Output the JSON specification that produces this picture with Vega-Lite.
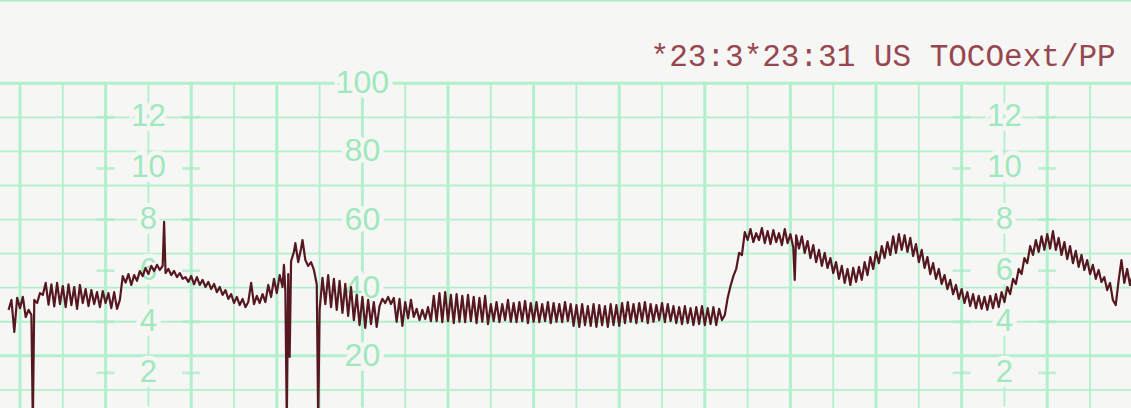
{
  "$schema": "https://vega.github.io/schema/vega-lite/v6.json",
  "autosize": {"type": "fit", "contains": "padding"},
  "width": 1131,
  "height": 408,
  "padding": 0,
  "background": "#f6f6f4",
  "config": {"view": {"stroke": null}},
  "datasets": {
    "one": [{"k": 1}],
    "vminor": [{"t":90},{"t":150},{"t":210},{"t":270},{"t":330},{"t":390},{"t":450},{"t":510},{"t":570},{"t":630},{"t":690},{"t":750},{"t":810}],
    "vmajor": [{"t":60},{"t":120},{"t":180},{"t":240},{"t":300},{"t":360},{"t":420},{"t":480},{"t":540},{"t":600},{"t":660},{"t":720},{"t":780}],
    "hminor": [{"mmHg":0},{"mmHg":10},{"mmHg":30},{"mmHg":40},{"mmHg":50},{"mmHg":60},{"mmHg":70},{"mmHg":80},{"mmHg":90}],
    "hmajor": [{"mmHg":20},{"mmHg":100}],
    "kpa": [
      {"kpa": "0", "mmHg": 0}, {"kpa": "2", "mmHg": 15}, {"kpa": "4", "mmHg": 30}, {"kpa": "6", "mmHg": 45},
      {"kpa": "8", "mmHg": 60}, {"kpa": "10", "mmHg": 75}, {"kpa": "12", "mmHg": 90}
    ],
    "mm": [
      {"mmHg": 0}, {"mmHg": 20}, {"mmHg": 40}, {"mmHg": 60}, {"mmHg": 80}, {"mmHg": 100}
    ],
    "header": [{"text": "*23:3*23:31 US TOCOext/PP"}],
    "trace": [
      {"t":52,"p":33.5},{"t":54,"p":36.4},{"t":56,"p":27},{"t":58,"p":37.0},{"t":60,"p":34.0},{"t":62,"p":37.3},{"t":64,"p":31.4},{"t":66,"p":33.5},{"t":68,"p":32.0},{"t":69,"p":0},
      {"t":70,"p":36.4},{"t":72,"p":35.5},{"t":74,"p":38.4},{"t":76,"p":37.9},{"t":78,"p":41.4},{"t":80,"p":35.0},{"t":82,"p":41.0},{"t":84,"p":34.5},{"t":86,"p":41.4},{"t":88,"p":35.2},
      {"t":90,"p":40.5},{"t":92,"p":34.3},{"t":94,"p":41.0},{"t":96,"p":34.9},{"t":98,"p":40.2},{"t":100,"p":33.8},{"t":102,"p":40.8},{"t":104,"p":35.5},{"t":106,"p":39.6},{"t":108,"p":34.6},
      {"t":110,"p":39.3},{"t":112,"p":35.2},{"t":114,"p":38.7},{"t":116,"p":34.3},{"t":118,"p":39.0},{"t":120,"p":35.5},{"t":122,"p":38.4},{"t":124,"p":34.0},{"t":126,"p":38.7},{"t":128,"p":33.8},
      {"t":130,"p":36.4},{"t":132,"p":43.4},{"t":134,"p":41.5},{"t":136,"p":44.0},{"t":138,"p":40.8},{"t":140,"p":43.7},{"t":142,"p":42.0},{"t":144,"p":44.9},{"t":146,"p":43.4},{"t":148,"p":45.8},
      {"t":150,"p":44.0},{"t":152,"p":46.4},{"t":154,"p":44.9},{"t":156,"p":46.7},{"t":158,"p":45.2},{"t":160,"p":46.4},{"t":161,"p":59.3},{"t":162,"p":44.3},{"t":164,"p":45.5},{"t":166,"p":43.7},
      {"t":168,"p":44.9},{"t":170,"p":43.1},{"t":172,"p":44.3},{"t":174,"p":42.6},{"t":176,"p":43.1},{"t":178,"p":41.7},{"t":180,"p":43.4},{"t":182,"p":41.0},{"t":184,"p":43.1},{"t":186,"p":40.8},
      {"t":188,"p":42.3},{"t":190,"p":40.2},{"t":192,"p":41.7},{"t":194,"p":39.6},{"t":196,"p":41.1},{"t":198,"p":38.7},{"t":200,"p":40.2},{"t":202,"p":37.9},{"t":204,"p":39.3},{"t":206,"p":36.7},
      {"t":208,"p":38.1},{"t":210,"p":35.5},{"t":212,"p":37.3},{"t":214,"p":34.9},{"t":216,"p":36.7},{"t":218,"p":34.3},{"t":220,"p":35.8},{"t":222,"p":41.4},{"t":224,"p":35.2},{"t":226,"p":37.6},
      {"t":228,"p":35.5},{"t":230,"p":38.1},{"t":232,"p":35.8},{"t":234,"p":40.8},{"t":236,"p":37.3},{"t":238,"p":42.6},{"t":240,"p":38.4},{"t":242,"p":43.7},{"t":244,"p":40.2},{"t":245,"p":46.7},
      {"t":246,"p":39.0},{"t":247,"p":0},{"t":248,"p":44},{"t":249,"p":19.7},{"t":250,"p":47.8},{"t":252,"p":50.5},{"t":253,"p":53.1},{"t":255,"p":47.5},{"t":257,"p":51.5},{"t":258,"p":54.0},
      {"t":260,"p":48.1},{"t":262,"p":46.4},{"t":264,"p":47.5},{"t":266,"p":45.2},{"t":268,"p":41.0},{"t":269,"p":0},{"t":270,"p":33.5},{"t":272,"p":42.9},{"t":274,"p":35.2},{"t":276,"p":43.7},
      {"t":278,"p":34.3},{"t":280,"p":42.6},{"t":282,"p":33.5},{"t":284,"p":42.0},{"t":286,"p":32.6},{"t":288,"p":41.1},{"t":290,"p":31.7},{"t":292,"p":40.2},{"t":294,"p":30.5},{"t":296,"p":37.9},
      {"t":298,"p":29.0},{"t":300,"p":37.3},{"t":302,"p":28.2},{"t":304,"p":36.4},{"t":306,"p":29.3},{"t":308,"p":35.8},{"t":310,"p":28.5},{"t":312,"p":34.6},{"t":314,"p":36.7},{"t":316,"p":35.5},
      {"t":318,"p":37.3},{"t":320,"p":35.2},{"t":322,"p":37.0},{"t":324,"p":30.0},{"t":326,"p":36.7},{"t":328,"p":28.8},{"t":330,"p":35.8},{"t":332,"p":31.0},{"t":334,"p":36.4},{"t":336,"p":31.4},
      {"t":338,"p":33.8},{"t":340,"p":30.5},{"t":342,"p":33.5},{"t":344,"p":30.8},{"t":346,"p":34.3},{"t":348,"p":30.2},{"t":350,"p":37.6},{"t":352,"p":30.2},{"t":354,"p":38.4},{"t":356,"p":29.9},
      {"t":358,"p":38.7},{"t":360,"p":30.2},{"t":362,"p":37.9},{"t":364,"p":29.6},{"t":366,"p":38.1},{"t":368,"p":30.0},{"t":370,"p":37.6},{"t":372,"p":29.9},{"t":374,"p":37.9},{"t":376,"p":30.2},
      {"t":378,"p":37.3},{"t":380,"p":29.6},{"t":382,"p":37.0},{"t":384,"p":30.0},{"t":386,"p":37.6},{"t":388,"p":29.3},{"t":390,"p":35.2},{"t":392,"p":30.2},{"t":394,"p":35.8},{"t":396,"p":29.9},
      {"t":398,"p":35.2},{"t":400,"p":30.5},{"t":402,"p":36.4},{"t":404,"p":30.0},{"t":406,"p":35.5},{"t":408,"p":29.9},{"t":410,"p":35.8},{"t":412,"p":30.2},{"t":414,"p":36.1},{"t":416,"p":29.6},
      {"t":418,"p":35.5},{"t":420,"p":30.0},{"t":422,"p":35.8},{"t":424,"p":29.9},{"t":426,"p":35.2},{"t":428,"p":30.2},{"t":430,"p":35.8},{"t":432,"p":29.6},{"t":434,"p":35.5},{"t":436,"p":30.0},
      {"t":438,"p":35.2},{"t":440,"p":29.9},{"t":442,"p":35.8},{"t":444,"p":30.2},{"t":446,"p":35.2},{"t":448,"p":28.8},{"t":450,"p":34.9},{"t":452,"p":28.5},{"t":454,"p":35.2},{"t":456,"p":29.0},
      {"t":458,"p":34.6},{"t":460,"p":28.8},{"t":462,"p":35.2},{"t":464,"p":28.5},{"t":466,"p":34.9},{"t":468,"p":29.0},{"t":470,"p":34.6},{"t":472,"p":28.5},{"t":474,"p":35.2},{"t":476,"p":29.0},
      {"t":478,"p":34.9},{"t":480,"p":28.8},{"t":482,"p":35.5},{"t":484,"p":29.6},{"t":486,"p":35.8},{"t":488,"p":30.0},{"t":490,"p":35.2},{"t":492,"p":29.6},{"t":494,"p":35.5},{"t":496,"p":30.2},
      {"t":498,"p":35.8},{"t":500,"p":29.6},{"t":502,"p":35.2},{"t":504,"p":30.0},{"t":506,"p":34.9},{"t":508,"p":30.5},{"t":510,"p":35.5},{"t":512,"p":29.9},{"t":514,"p":35.2},{"t":516,"p":30.2},
      {"t":518,"p":34.6},{"t":520,"p":29.6},{"t":522,"p":34.3},{"t":524,"p":29.3},{"t":526,"p":34.6},{"t":528,"p":29.6},{"t":530,"p":34.0},{"t":532,"p":29.0},{"t":534,"p":34.3},{"t":536,"p":29.3},
      {"t":538,"p":34.6},{"t":540,"p":29.0},{"t":542,"p":34.0},{"t":544,"p":29.3},{"t":546,"p":34.3},{"t":548,"p":29.0},{"t":550,"p":33.8},{"t":552,"p":30.5},{"t":554,"p":32.0},{"t":556,"p":37.0},
      {"t":558,"p":40.5},{"t":560,"p":43.4},{"t":562,"p":45.5},{"t":564,"p":50.2},{"t":566,"p":49.6},{"t":568,"p":56.3},{"t":570,"p":54.0},{"t":572,"p":57.2},{"t":574,"p":53.4},{"t":576,"p":56.0},
      {"t":578,"p":54.0},{"t":580,"p":57.5},{"t":582,"p":53.1},{"t":584,"p":56.6},{"t":586,"p":52.8},{"t":588,"p":56.9},{"t":590,"p":53.4},{"t":592,"p":56.0},{"t":594,"p":52.5},{"t":596,"p":57.2},
      {"t":598,"p":53.1},{"t":600,"p":55.7},{"t":602,"p":51.8},{"t":603,"p":42.3},{"t":604,"p":55.4},{"t":606,"p":51.5},{"t":608,"p":55.1},{"t":610,"p":50.2},{"t":612,"p":53.7},{"t":614,"p":48.7},
      {"t":616,"p":52.5},{"t":618,"p":47.5},{"t":620,"p":51.1},{"t":622,"p":46.4},{"t":624,"p":50.2},{"t":626,"p":45.8},{"t":628,"p":48.7},{"t":630,"p":44.3},{"t":632,"p":47.5},{"t":634,"p":42.6},
      {"t":636,"p":46.4},{"t":638,"p":41.4},{"t":640,"p":45.5},{"t":642,"p":40.8},{"t":644,"p":45.8},{"t":646,"p":41.7},{"t":648,"p":46.1},{"t":650,"p":42.3},{"t":652,"p":47.5},{"t":654,"p":43.7},
      {"t":656,"p":49.0},{"t":658,"p":45.5},{"t":660,"p":50.5},{"t":662,"p":47.2},{"t":664,"p":52.2},{"t":666,"p":48.7},{"t":668,"p":53.4},{"t":670,"p":49.6},{"t":672,"p":55.1},{"t":674,"p":50.2},
      {"t":676,"p":55.7},{"t":678,"p":51.1},{"t":680,"p":55.4},{"t":682,"p":50.5},{"t":684,"p":54.6},{"t":686,"p":49.3},{"t":688,"p":52.8},{"t":690,"p":47.5},{"t":692,"p":51.1},{"t":694,"p":45.8},
      {"t":696,"p":49.0},{"t":698,"p":44.0},{"t":700,"p":47.2},{"t":702,"p":42.6},{"t":704,"p":45.5},{"t":706,"p":41.1},{"t":708,"p":43.7},{"t":710,"p":39.6},{"t":712,"p":42.3},{"t":714,"p":38.1},
      {"t":716,"p":40.8},{"t":718,"p":36.7},{"t":720,"p":39.6},{"t":722,"p":35.5},{"t":724,"p":38.7},{"t":726,"p":34.6},{"t":728,"p":38.1},{"t":730,"p":34.0},{"t":732,"p":37.6},{"t":734,"p":33.8},
      {"t":736,"p":37.3},{"t":738,"p":33.5},{"t":740,"p":37.6},{"t":742,"p":34.0},{"t":744,"p":38.1},{"t":746,"p":34.3},{"t":748,"p":38.7},{"t":750,"p":35.8},{"t":752,"p":40.2},{"t":754,"p":38.1},
      {"t":756,"p":42.6},{"t":758,"p":41.1},{"t":760,"p":45.5},{"t":762,"p":44.0},{"t":764,"p":48.7},{"t":766,"p":47.2},{"t":768,"p":52.2},{"t":770,"p":49.6},{"t":772,"p":54.0},{"t":774,"p":50.5},
      {"t":776,"p":55.1},{"t":778,"p":51.1},{"t":780,"p":55.7},{"t":782,"p":51.5},{"t":784,"p":56.6},{"t":786,"p":51.1},{"t":788,"p":54.6},{"t":790,"p":49.6},{"t":792,"p":53.4},{"t":794,"p":48.4},
      {"t":796,"p":52.2},{"t":798,"p":47.2},{"t":800,"p":50.8},{"t":802,"p":46.1},{"t":804,"p":49.6},{"t":806,"p":45.2},{"t":808,"p":48.1},{"t":810,"p":44.0},{"t":812,"p":46.7},{"t":814,"p":42.6},
      {"t":816,"p":45.2},{"t":818,"p":41.7},{"t":820,"p":43.1},{"t":822,"p":39.3},{"t":824,"p":41.4},{"t":826,"p":36.4},{"t":828,"p":34.9},{"t":830,"p":42.0},{"t":832,"p":48.1},{"t":834,"p":41.4},
      {"t":836,"p":45.5},{"t":838,"p":40.8},{"t":840,"p":44.0}
    ]
  },
  "encoding": {
    "x": {"type": "quantitative", "scale": {"domain": [45.98, 838.7], "nice": false, "zero": false}, "axis": null},
    "y": {"type": "quantitative", "scale": {"domain": [4.69, 124.44], "nice": false, "zero": false}, "axis": null}
  },
  "layer": [
    {
      "data": {"name": "hminor"},
      "mark": {"type": "rule", "color": "#b2efcd", "strokeWidth": 1.8, "clip": true},
      "encoding": {"y": {"field": "mmHg", "type": "quantitative"}}
    },
    {
      "data": {"name": "hmajor"},
      "mark": {"type": "rule", "color": "#b2efcd", "strokeWidth": 3, "clip": true},
      "encoding": {"y": {"field": "mmHg", "type": "quantitative"}}
    },
    {
      "data": {"name": "vminor"},
      "mark": {"type": "rule", "color": "#b2efcd", "strokeWidth": 1.8, "clip": true},
      "encoding": {"x": {"field": "t", "type": "quantitative"}, "y": {"datum": 100.3, "type": "quantitative"}, "y2": {"datum": 0}}
    },
    {
      "data": {"name": "vmajor"},
      "mark": {"type": "rule", "color": "#b2efcd", "strokeWidth": 3, "clip": true},
      "encoding": {"x": {"field": "t", "type": "quantitative"}, "y": {"datum": 100.4, "type": "quantitative"}, "y2": {"datum": 0}}
    },
    {
      "data": {"name": "one"},
      "mark": {"type": "rule", "color": "#b2efcd", "strokeWidth": 2, "clip": true},
      "encoding": {"y": {"datum": 124.2, "type": "quantitative"}}
    },
    {
      "data": {"name": "kpa"},
      "mark": {"type": "tick", "orient": "horizontal", "color": "#a6ecc3", "size": 18, "thickness": 2.8, "clip": true},
      "encoding": {"x": {"datum": 120, "type": "quantitative"}, "y": {"field": "mmHg", "type": "quantitative"}}
    },
    {
      "data": {"name": "kpa"},
      "mark": {"type": "tick", "orient": "horizontal", "color": "#a6ecc3", "size": 18, "thickness": 2.8, "clip": true},
      "encoding": {"x": {"datum": 180, "type": "quantitative"}, "y": {"field": "mmHg", "type": "quantitative"}}
    },
    {
      "data": {"name": "kpa"},
      "mark": {"type": "tick", "orient": "horizontal", "color": "#a6ecc3", "size": 18, "thickness": 2.8, "clip": true},
      "encoding": {"x": {"datum": 720, "type": "quantitative"}, "y": {"field": "mmHg", "type": "quantitative"}}
    },
    {
      "data": {"name": "kpa"},
      "mark": {"type": "tick", "orient": "horizontal", "color": "#a6ecc3", "size": 18, "thickness": 2.8, "clip": true},
      "encoding": {"x": {"datum": 780, "type": "quantitative"}, "y": {"field": "mmHg", "type": "quantitative"}}
    },
    {
      "data": {"name": "kpa"},
      "mark": {"type": "text", "font": "Liberation Sans", "fontSize": 31, "align": "center", "baseline": "middle", "fill": "#f6f6f4", "stroke": "#f6f6f4", "strokeWidth": 9, "clip": true},
      "encoding": {"x": {"datum": 150, "type": "quantitative"}, "y": {"field": "mmHg", "type": "quantitative"}, "text": {"field": "kpa"}}
    },
    {
      "data": {"name": "kpa"},
      "mark": {"type": "text", "font": "Liberation Sans", "fontSize": 31, "align": "center", "baseline": "middle", "fill": "#9fe8bd", "clip": true},
      "encoding": {"x": {"datum": 150, "type": "quantitative"}, "y": {"field": "mmHg", "type": "quantitative"}, "text": {"field": "kpa"}}
    },
    {
      "data": {"name": "kpa"},
      "mark": {"type": "text", "font": "Liberation Sans", "fontSize": 31, "align": "center", "baseline": "middle", "fill": "#f6f6f4", "stroke": "#f6f6f4", "strokeWidth": 9, "clip": true},
      "encoding": {"x": {"datum": 750, "type": "quantitative"}, "y": {"field": "mmHg", "type": "quantitative"}, "text": {"field": "kpa"}}
    },
    {
      "data": {"name": "kpa"},
      "mark": {"type": "text", "font": "Liberation Sans", "fontSize": 31, "align": "center", "baseline": "middle", "fill": "#9fe8bd", "clip": true},
      "encoding": {"x": {"datum": 750, "type": "quantitative"}, "y": {"field": "mmHg", "type": "quantitative"}, "text": {"field": "kpa"}}
    },
    {
      "data": {"name": "mm"},
      "mark": {"type": "text", "font": "Liberation Sans", "fontSize": 32, "align": "center", "baseline": "middle", "fill": "#f6f6f4", "stroke": "#f6f6f4", "strokeWidth": 9, "clip": true},
      "encoding": {"x": {"datum": 300, "type": "quantitative"}, "y": {"field": "mmHg", "type": "quantitative"}, "text": {"field": "mmHg"}}
    },
    {
      "data": {"name": "mm"},
      "mark": {"type": "text", "font": "Liberation Sans", "fontSize": 32, "align": "center", "baseline": "middle", "fill": "#9fe8bd", "clip": true},
      "encoding": {"x": {"datum": 300, "type": "quantitative"}, "y": {"field": "mmHg", "type": "quantitative"}, "text": {"field": "mmHg"}}
    },
    {
      "data": {"name": "trace"},
      "mark": {"type": "line", "color": "#561820", "strokeWidth": 2.2, "strokeJoin": "round", "clip": true},
      "encoding": {
        "x": {"field": "t", "type": "quantitative"},
        "y": {"field": "p", "type": "quantitative"}
      }
    },
    {
      "data": {"name": "header"},
      "mark": {"type": "text", "font": "Liberation Mono", "fontSize": 31, "align": "left", "baseline": "alphabetic", "fill": "#96474f", "clip": true},
      "encoding": {"x": {"datum": 502, "type": "quantitative"}, "y": {"datum": 105.0, "type": "quantitative"}, "text": {"field": "text"}}
    }
  ]
}
